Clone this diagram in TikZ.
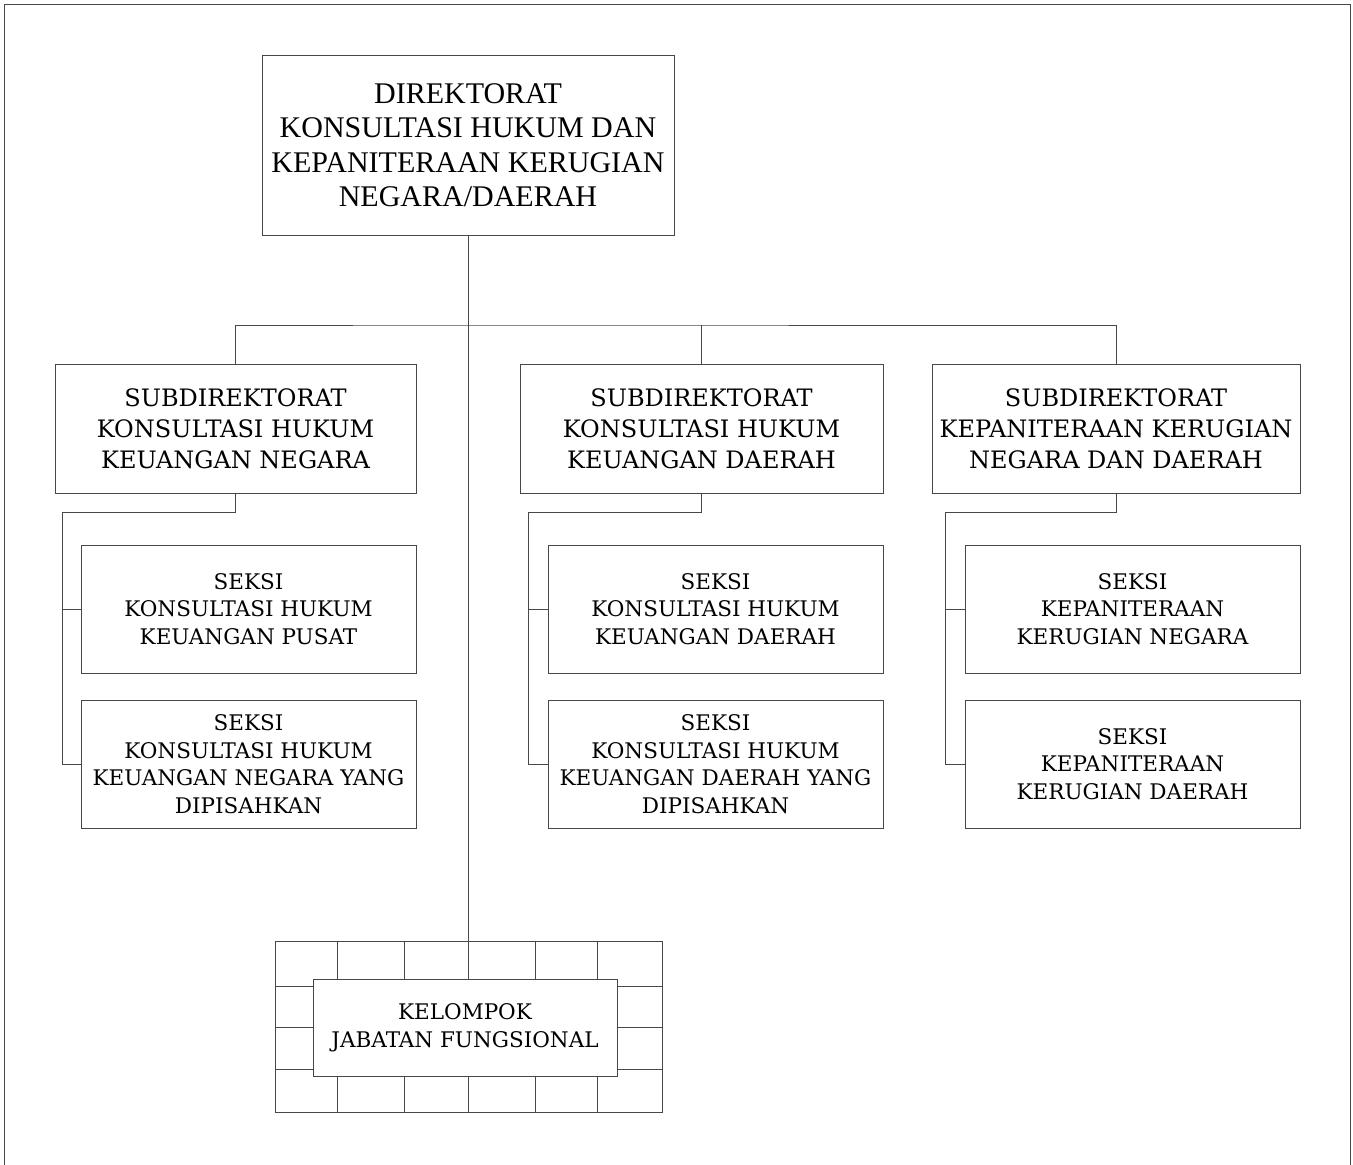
\documentclass[tikz,border=0pt]{standalone}
\usepackage{fontspec}
\setmainfont{DejaVu Serif}
\newfontfamily\titlefont{Liberation Serif}
\begin{document}
\begin{tikzpicture}[x=1pt,y=-1pt,
  unit/.style={draw=black!72, line width=1pt, fill=white, align=center, inner sep=0pt, text=black},
  topbox/.style={unit, minimum width=412pt, minimum height=180pt,
    font=\titlefont\fontsize{30}{34.5}\selectfont},
  subbox/.style={unit, minimum height=129pt,
    font=\fontsize{24}{31}\selectfont},
  seksibox/.style={unit, minimum width=335pt, minimum height=128pt,
    font=\fontsize{21.5}{27.5}\selectfont},
  link/.style={draw=black!72, line width=1pt}]
\useasboundingbox (0,0) rectangle (1353,1165);

% open frame (no bottom edge)
\draw[link] (4,1165) -- (4,4) -- (1350,4) -- (1350,1165);

% director
\node[topbox] (dir) at (468,145) {DIREKTORAT\\KONSULTASI HUKUM DAN\\KEPANITERAAN KERUGIAN\\NEGARA/DAERAH};

% sub-directorates
\node[subbox, minimum width=361pt] (subA) at (235.5,428.5) {SUBDIREKTORAT\\KONSULTASI HUKUM\\KEUANGAN NEGARA};
\node[subbox, minimum width=363pt] (subB) at (701.5,428.5) {SUBDIREKTORAT\\KONSULTASI HUKUM\\KEUANGAN DAERAH};
\node[subbox, minimum width=368pt] (subC) at (1116,428.5) {SUBDIREKTORAT\\KEPANITERAAN KERUGIAN\\NEGARA DAN DAERAH};

% sections
\node[seksibox] (a1) at (248.5,609) {SEKSI\\KONSULTASI HUKUM\\KEUANGAN PUSAT};
\node[seksibox] (a2) at (248.5,764) {SEKSI\\KONSULTASI HUKUM\\KEUANGAN NEGARA YANG\\DIPISAHKAN};
\node[seksibox] (b1) at (715.5,609) {SEKSI\\KONSULTASI HUKUM\\KEUANGAN DAERAH};
\node[seksibox] (b2) at (715.5,764) {SEKSI\\KONSULTASI HUKUM\\KEUANGAN DAERAH YANG\\DIPISAHKAN};
\node[seksibox] (c1) at (1132.5,609) {SEKSI\\KEPANITERAAN\\KERUGIAN NEGARA};
\node[seksibox] (c2) at (1132.5,764) {SEKSI\\KEPANITERAAN\\KERUGIAN DAERAH};

% functional group: grid with a framed label on top
\coordinate (gridtop) at (468,941);
\draw[link] (275,941) rectangle (662,1112);
\foreach \gx in {337,404,468,535,597} \draw[link] (\gx,941) -- (\gx,1112);
\foreach \gy in {986,1027,1069} \draw[link] (275,\gy) -- (662,\gy);
\node[unit, minimum width=304pt, minimum height=97pt,
  font=\fontsize{21.5}{27.5}\selectfont] (kjf) at (465,1027.5) {KELOMPOK\\JABATAN FUNGSIONAL};

% trunk and bus
\coordinate (bus) at (468,325);
\draw[link] (dir.south) -- (gridtop);
\draw[link] (subA.north) |- (bus) -| (subC.north);
\draw[link] (subB.north) -- (subB.north |- bus);

% section connectors
\draw[link] (subA.south) |- (62,512) |- (a2.west);
\draw[link] (a1.west) -- (a1.west -| 62,0);
\draw[link] (subB.south) |- (528,512) |- (b2.west);
\draw[link] (b1.west) -- (b1.west -| 528,0);
\draw[link] (subC.south) |- (945,512) |- (c2.west);
\draw[link] (c1.west) -- (c1.west -| 945,0);
\end{tikzpicture}
\end{document}
